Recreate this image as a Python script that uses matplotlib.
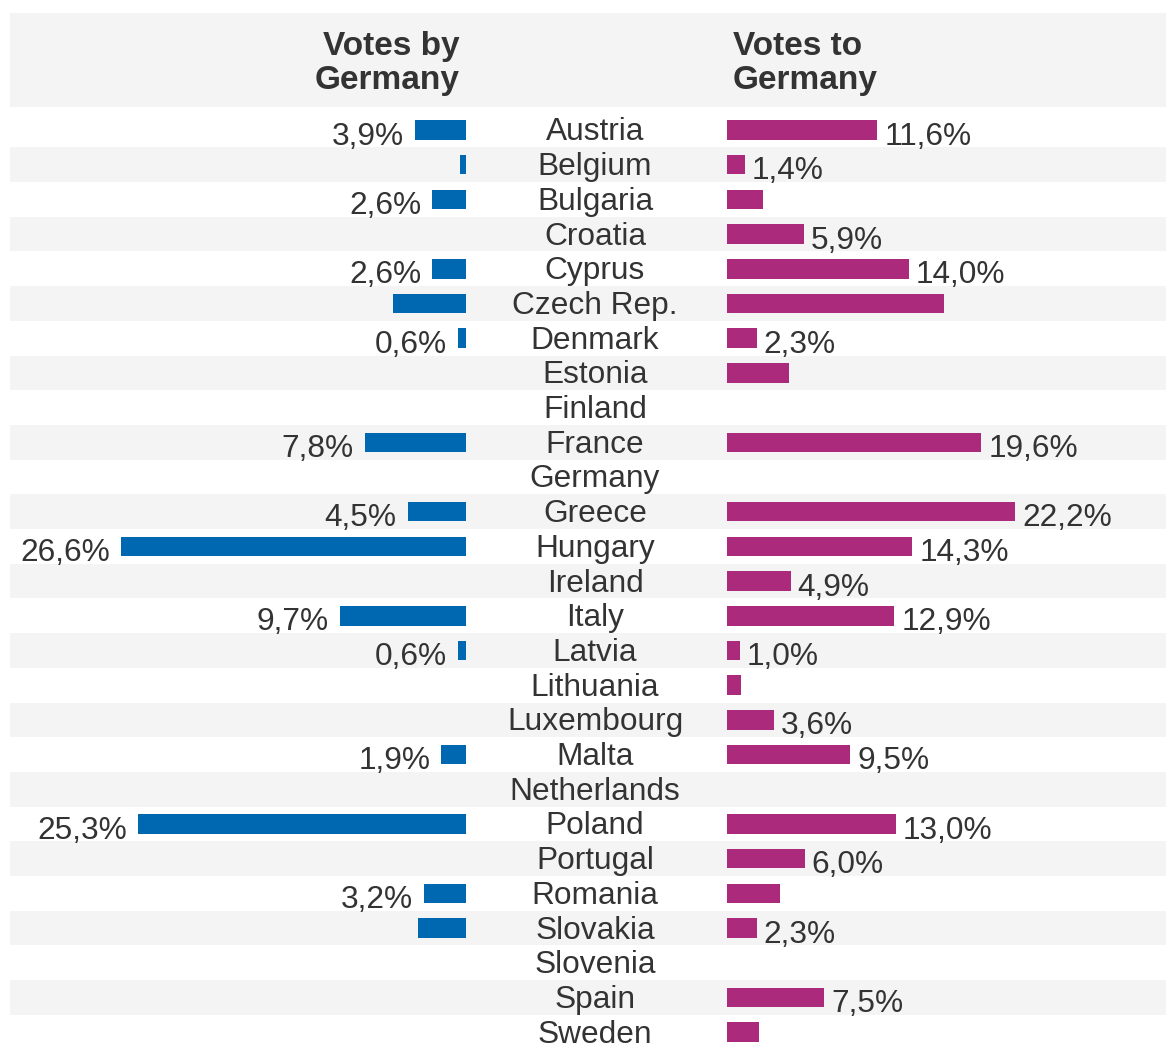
import matplotlib
matplotlib.use("Agg")
import matplotlib.pyplot as plt

# rows, top to bottom
countries = [
    "Austria", "Belgium", "Bulgaria", "Croatia", "Cyprus", "Czech Rep.",
    "Denmark", "Estonia", "Finland", "France", "Germany", "Greece",
    "Hungary", "Ireland", "Italy", "Latvia", "Lithuania", "Luxembourg",
    "Malta", "Netherlands", "Poland", "Portugal", "Romania", "Slovakia",
    "Slovenia", "Spain", "Sweden",
]

# share of points (%) - 0 means no bar
votes_by_germany = [
    3.9, 0.5, 2.6, 0, 2.6, 5.6, 0.6, 0, 0, 7.8, 0, 4.5, 26.6, 0, 9.7,
    0.6, 0, 0, 1.9, 0, 25.3, 0, 3.2, 3.7, 0, 0, 0,
]
votes_to_germany = [
    11.6, 1.4, 2.8, 5.9, 14.0, 16.7, 2.3, 4.8, 0, 19.6, 0, 22.2, 14.3,
    4.9, 12.9, 1.0, 1.1, 3.6, 9.5, 0, 13.0, 6.0, 4.1, 2.3, 0, 7.5, 2.5,
]

# which bars carry a value label in the original
labelled_by = ["Austria", "Bulgaria", "Cyprus", "Denmark", "France", "Greece",
               "Hungary", "Italy", "Latvia", "Malta", "Poland", "Romania"]
labelled_to = ["Austria", "Belgium", "Croatia", "Cyprus", "Denmark", "France",
               "Greece", "Hungary", "Ireland", "Italy", "Latvia", "Luxembourg",
               "Malta", "Poland", "Portugal", "Slovakia", "Spain"]

BLUE = "#0068b1"
MAGENTA = "#ab2a7c"
TEXT = "#333333"
BAND = "#f4f4f4"
FONT = "Liberation Sans"
FS = 22.8

W, H = 1166, 1043
ROW_PX = 34.7          # row pitch in pixels
TOP_PX = 130           # centre of first row
PX_PER_PCT = 12.97     # bar scale

# y limits in row units so that rows land where they do in the reference
y_top = -TOP_PX / ROW_PX
y_bottom = (H - TOP_PX) / ROW_PX


def fmt(v):
    return f"{v:.1f}".replace(".", ",") + "%"


fig = plt.figure(figsize=(W / 100, H / 100), dpi=100)
fig.patch.set_facecolor("white")

# background: header band, zebra rows, country names
bg = fig.add_axes([0, 0, 1, 1])
bg.set_xlim(0, 1)
bg.set_ylim(y_bottom, y_top)
bg.axis("off")

bg.axhspan((13 - TOP_PX) / ROW_PX, (107 - TOP_PX) / ROW_PX,
           xmin=10 / W, xmax=1, color=BAND, lw=0)
for i in range(len(countries)):
    if i % 2 == 1:
        bg.axhspan(i - 0.5, i + 0.5, xmin=10 / W, xmax=1, color=BAND, lw=0)

for i, name in enumerate(countries):
    bg.text(595 / W, i + 0.30, name, ha="center", va="baseline",
            fontsize=FS, color=TEXT, family=FONT)

header_y = (89 - TOP_PX) / ROW_PX
bg.text(460 / W, header_y, "Votes by\nGermany", ha="right", va="baseline",
        multialignment="right", fontsize=24, fontweight="bold",
        color=TEXT, family=FONT, linespacing=1.12)
bg.text(733 / W, header_y, "Votes to\nGermany", ha="left", va="baseline",
        multialignment="left", fontsize=24, fontweight="bold",
        color=TEXT, family=FONT, linespacing=1.12)

rows = list(range(len(countries)))

# left panel - votes by Germany, growing to the left
left = fig.add_axes([0, 0, 466 / W, 1])
left.set_xlim(466 / PX_PER_PCT, 0)
left.set_ylim(y_bottom, y_top)
left.axis("off")
left.patch.set_visible(False)
left.barh(rows, votes_by_germany, height=0.56, color=BLUE, lw=0)
for i, (name, v) in enumerate(zip(countries, votes_by_germany)):
    if name in labelled_by:
        left.annotate(fmt(v), (v, i + 0.42), xytext=(-8, 0),
                      textcoords="offset points", ha="right", va="baseline",
                      fontsize=FS, color=TEXT, family=FONT)

# right panel - votes to Germany
right = fig.add_axes([727 / W, 0, (W - 727) / W, 1])
right.set_xlim(0, (W - 727) / PX_PER_PCT)
right.set_ylim(y_bottom, y_top)
right.axis("off")
right.patch.set_visible(False)
right.barh(rows, votes_to_germany, height=0.56, color=MAGENTA, lw=0)
for i, (name, v) in enumerate(zip(countries, votes_to_germany)):
    if name in labelled_to:
        right.annotate(fmt(v), (v, i + 0.42), xytext=(5, 0),
                       textcoords="offset points", ha="left", va="baseline",
                       fontsize=FS, color=TEXT, family=FONT)

fig.savefig("out.png", dpi=100)
